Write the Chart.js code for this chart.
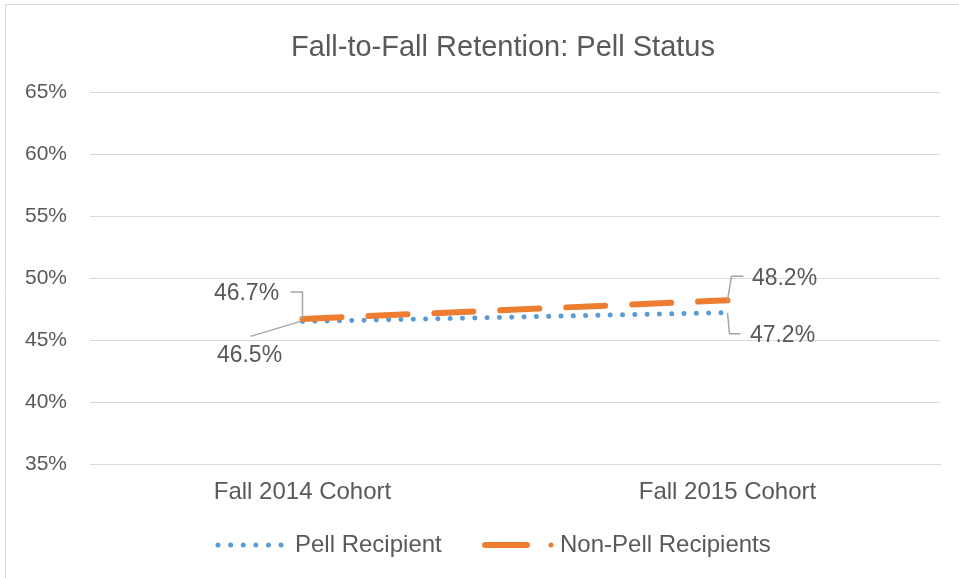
<!DOCTYPE html>
<html>
<head>
<meta charset="utf-8">
<script src="https://cdn.jsdelivr.net/npm/chart.js@4.4.1/dist/chart.umd.min.js"></script>
<style>
  html, body { margin: 0; padding: 0; background: #fff; }
  #wrap { position: relative; width: 959px; height: 578px; }
</style>
</head>
<body>
<div id="wrap"><canvas id="retentionChart" width="959" height="578"></canvas></div>
<script>
const categories = ['Fall 2014 Cohort', 'Fall 2015 Cohort'];
const pellValues = [46.5, 47.2];
const nonPellValues = [46.7, 48.2];
const seriesNames = ['Pell Recipient', 'Non-Pell Recipients'];
const yTicks = [35, 40, 45, 50, 55, 60, 65];

const textColor = '#595959';
const blue = '#5B9BD5';
const orange = '#ED7D31';
const leaderColor = '#A6A6A6';

// where each data label sits relative to its point (dx, dy) and how the leader bends
const labelPlace = {
    0: [ {dx: -53, dy: 34, kind: 'diag'}, {dx: 55, dy: 23, kind: 'downRight'} ],
    1: [ {dx: -56, dy: -25, kind: 'upLeft'}, {dx: 57, dy: -22, kind: 'upRight'} ]
};

const extras = {
    id: 'extras',
    afterDraw(chart){
        const ctx = chart.ctx;
        ctx.save();
        // frame
        ctx.strokeStyle = '#D9D9D9';
        ctx.lineWidth = 1;
        ctx.beginPath();
        ctx.moveTo(5.5, 578); ctx.lineTo(5.5, 4.5); ctx.lineTo(959, 4.5);
        ctx.stroke();

        // title
        ctx.fillStyle = textColor;
        ctx.font = '29px "Liberation Sans", Arial, sans-serif';
        ctx.textAlign = 'center';
        ctx.textBaseline = 'middle';
        ctx.fillText('Fall-to-Fall Retention: Pell Status', 503, 48);

        // data labels with leader lines
        ctx.font = '23px "Liberation Sans", Arial, sans-serif';
        chart.data.datasets.forEach((ds, di) => {
            const meta = chart.getDatasetMeta(di);
            meta.data.forEach((pt, i) => {
                const p = labelPlace[ds.key][i];
                const lx = pt.x + p.dx, ly = pt.y + p.dy;
                ctx.strokeStyle = leaderColor;
                ctx.lineWidth = 1.5;
                ctx.beginPath();
                if (p.kind === 'diag') {
                    ctx.moveTo(pt.x - 2, pt.y);
                    ctx.lineTo(lx + 1, ly - 19);
                } else if (p.kind === 'upLeft') {
                    ctx.moveTo(pt.x, pt.y);
                    ctx.lineTo(pt.x, ly - 2);
                    ctx.lineTo(pt.x - 12, ly - 2);
                } else if (p.kind === 'upRight') {
                    ctx.moveTo(pt.x, pt.y);
                    ctx.lineTo(pt.x + 4, ly - 2);
                    ctx.lineTo(pt.x + 16, ly - 2);
                } else {
                    ctx.moveTo(pt.x, pt.y);
                    ctx.lineTo(pt.x + 2, ly - 2);
                    ctx.lineTo(pt.x + 13, ly - 2);
                }
                ctx.stroke();
                ctx.fillStyle = textColor;
                ctx.textAlign = 'center';
                ctx.textBaseline = 'middle';
                ctx.fillText(ds.data[i].toFixed(1) + '%', lx, ly);
            });
        });

        // legend
        const ly = 545;
        ctx.lineCap = 'round';
        ctx.strokeStyle = blue;
        ctx.lineWidth = 5;
        ctx.setLineDash([0.01, 12.6]);
        ctx.beginPath(); ctx.moveTo(218, ly); ctx.lineTo(282, ly); ctx.stroke();
        ctx.setLineDash([]);
        ctx.strokeStyle = orange;
        ctx.lineWidth = 6;
        ctx.beginPath(); ctx.moveTo(485, ly); ctx.lineTo(527, ly); ctx.stroke();
        ctx.fillStyle = orange;
        ctx.beginPath(); ctx.arc(551, ly, 2.5, 0, Math.PI * 2); ctx.fill();
        ctx.fillStyle = textColor;
        ctx.font = '24px "Liberation Sans", Arial, sans-serif';
        ctx.textAlign = 'left';
        ctx.fillText(seriesNames[0], 295, ly);
        ctx.fillText(seriesNames[1], 560, ly);
        ctx.restore();
    }
};

const ctx = document.getElementById('retentionChart').getContext('2d');
new Chart(ctx, {
    type: 'line',
    data: {
        labels: categories,
        datasets: [
            {
                key: 0,
                label: seriesNames[0],
                data: pellValues,
                borderColor: blue,
                borderWidth: 5,
                borderDash: [0.01, 12.3],
                borderCapStyle: 'round',
                pointRadius: 0,
                order: 1
            },
            {
                key: 1,
                label: seriesNames[1],
                data: nonPellValues,
                borderColor: orange,
                borderWidth: 6,
                borderDash: [39, 27],
                borderCapStyle: 'round',
                pointRadius: 0,
                order: 0
            }
        ]
    },
    options: {
        responsive: false,
        animation: false,
        layout: { padding: { left: 0, right: 19, top: 92, bottom: 0 } },
        plugins: {
            legend: { display: false },
            title: { display: false },
            tooltip: { enabled: false }
        },
        scales: {
            x: {
                offset: true,
                grid: { display: false, drawTicks: false },
                border: { color: '#D9D9D9' },
                ticks: { color: textColor, padding: 14, font: { size: 24, family: '"Liberation Sans", Arial' } },
                afterFit(scale){ scale.height = 114; }
            },
            y: {
                min: 35,
                max: 65,
                afterBuildTicks(scale){ scale.ticks = yTicks.map(v => ({value: v})); },
                grid: { color: '#D9D9D9', lineWidth: 1, drawTicks: false },
                border: { display: false },
                ticks: {
                    color: textColor,
                    padding: 23,
                    font: { size: 21, family: '"Liberation Sans", Arial' },
                    callback: v => v + '%'
                },
                afterFit(scale){ scale.width = 90; }
            }
        }
    },
    plugins: [extras]
});
</script>
</body>
</html>
